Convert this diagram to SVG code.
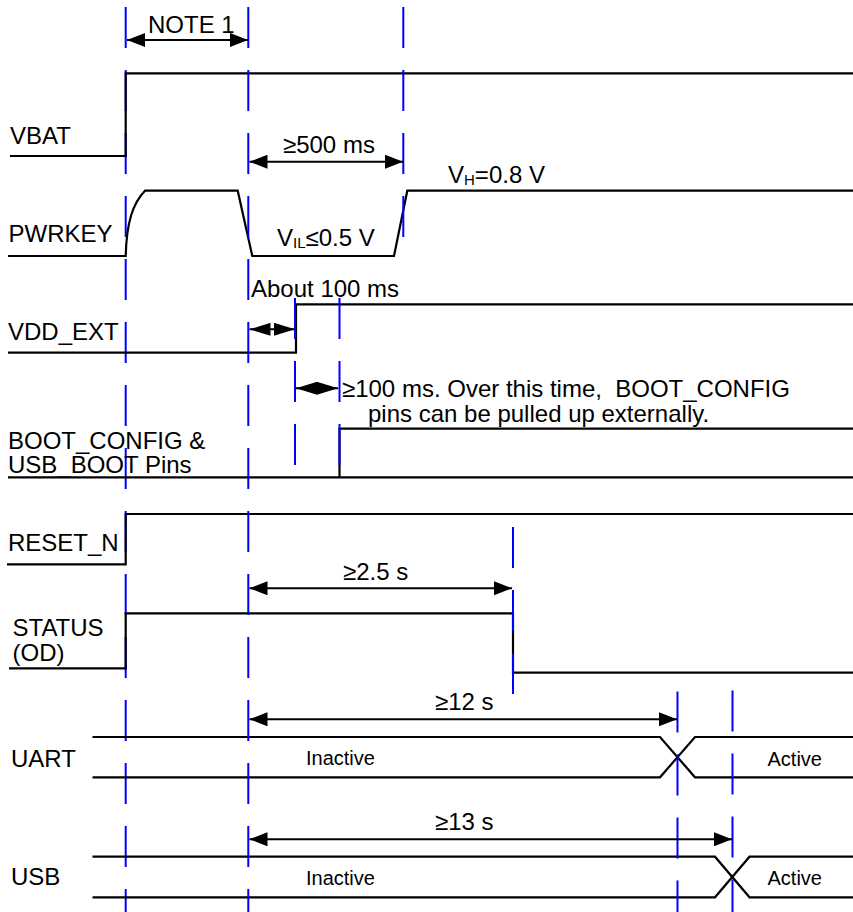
<svg xmlns="http://www.w3.org/2000/svg" width="853" height="912" viewBox="0 0 853 912">
<defs>
<style>
.sig{fill:none;stroke:#000;stroke-width:2.2;stroke-linejoin:miter}
.guide{stroke:#0000ff;stroke-width:2;stroke-dasharray:41 22;fill:none}
.arr{stroke:#000;stroke-width:2;fill:none;marker-start:url(#ah);marker-end:url(#ah)}
.arrs{stroke:#000;stroke-width:2;fill:none;marker-start:url(#ahs);marker-end:url(#ahs)}
text{font-family:"Liberation Sans",Arial,sans-serif;font-size:24px;fill:#000}
.st{font-size:20px}
</style>
<marker id="ah" markerUnits="userSpaceOnUse" markerWidth="18" markerHeight="14" refX="18" refY="7" orient="auto-start-reverse" viewBox="0 0 18 14"><path d="M0,0 L18,7 L0,14 z" fill="#000"/></marker>
<marker id="ahs" markerUnits="userSpaceOnUse" markerWidth="21" markerHeight="13" refX="21" refY="6.5" orient="auto-start-reverse" viewBox="0 0 21 13"><path d="M0,0 L21,6.5 L0,13 z" fill="#000"/></marker>
</defs>
<rect width="853" height="912" fill="#fff"/>

<g id="guide-t0">
<line class="guide" x1="125.7" y1="7" x2="125.7" y2="912"/>
</g>

<g id="signals">
<g id="vbat">
<polyline class="sig" points="10,156 125.7,156 125.7,73.3 853,73.3"/>
<text x="10" y="144">VBAT</text>
</g>
<g id="pwrkey">
<path class="sig" d="M8,256 L125.7,256 C126.5,222 133,203 145,190.7 L237.7,190.7 L252.3,256 L394,256 L407.3,190.7 L853,190.7"/>
<text x="8.5" y="242">PWRKEY</text>
<text x="277" y="246">V<tspan font-size="15" dy="1.5">IL</tspan><tspan dy="-1.5">≤0.5 V</tspan></text>
<text x="448" y="182.7">V<tspan font-size="15" dy="2.5">H</tspan><tspan dy="-2.5">=0.8 V</tspan></text>
</g>
<g id="vdd_ext">
<polyline class="sig" points="8,352.7 296,352.7 296,304.3 853,304.3"/>
<text x="8" y="340">VDD_EXT</text>
</g>
<g id="boot_config">
<polyline class="sig" points="339.5,477.3 339.5,428.7 853,428.7"/>
<line class="sig" x1="8" y1="477.3" x2="853" y2="477.3"/>
<text x="8" y="448.5">BOOT_CONFIG &amp;</text>
<text x="8" y="472.5">USB_BOOT Pins</text>
</g>
<g id="reset_n">
<polyline class="sig" points="7,564.3 125.7,564.3 125.7,514 853,514"/>
<text x="8" y="551">RESET_N</text>
</g>
<g id="status">
<polyline class="sig" points="9,668.3 125.7,668.3 125.7,613.3 513,613.3 513,672.7 853,672.7"/>
<text x="12.5" y="635.5">STATUS</text>
<text x="12.5" y="661">(OD)</text>
</g>
<g id="uart">
<polyline class="sig" points="92.5,737 660,737 695,777.3 853,777.3"/>
<polyline class="sig" points="92.5,777.3 660,777.3 695,737 853,737"/>
<text x="11" y="766.7">UART</text>
<text class="st" x="306" y="765">Inactive</text>
<text class="st" x="767.5" y="766">Active</text>
</g>
<g id="usb">
<polyline class="sig" points="92.5,856.7 715,856.7 749.5,897.3 853,897.3"/>
<polyline class="sig" points="92.5,897.3 715,897.3 749.5,856.7 853,856.7"/>
<text x="11" y="885">USB</text>
<text class="st" x="306" y="885">Inactive</text>
<text class="st" x="767.5" y="885">Active</text>
</g>
</g>

<g id="guides">
<line class="guide" x1="248.3" y1="7" x2="248.3" y2="912"/>
<line class="guide" x1="403.3" y1="7" x2="403.3" y2="237"/>
<line class="guide" x1="295" y1="298" x2="295" y2="465"/>
<line class="guide" x1="339.5" y1="298" x2="339.5" y2="467"/>
<line class="guide" x1="513" y1="527" x2="513" y2="695"/>
<line class="guide" x1="677.5" y1="691.5" x2="677.5" y2="912"/>
<line class="guide" x1="732.5" y1="690.5" x2="732.5" y2="912"/>
</g>

<g id="connectors">
<line class="arr" x1="127" y1="40" x2="248" y2="40"/>
<line class="arr" x1="249.5" y1="161.7" x2="403" y2="161.7"/>
<line class="arrs" x1="249.5" y1="329.3" x2="295" y2="329.3"/>
<line class="arrs" x1="296" y1="388.3" x2="338" y2="388.3"/>
<line class="arr" x1="249.5" y1="588.3" x2="512" y2="588.3"/>
<line class="arr" x1="249.5" y1="719.3" x2="677" y2="719.3"/>
<line class="arr" x1="249.5" y1="839.3" x2="732" y2="839.3"/>
</g>

<g id="labels">
<text x="148" y="33">NOTE 1</text>
<text x="283" y="152.5">≥500 ms</text>
<text x="251" y="296.5">About 100 ms</text>
<text x="342" y="397" style="white-space:pre">≥100 ms. Over this time,  BOOT_CONFIG</text>
<text x="368" y="421.5">pins can be pulled up externally.</text>
<text x="343" y="580">≥2.5 s</text>
<text x="435" y="710">≥12 s</text>
<text x="435" y="830">≥13 s</text>
</g>
</svg>
